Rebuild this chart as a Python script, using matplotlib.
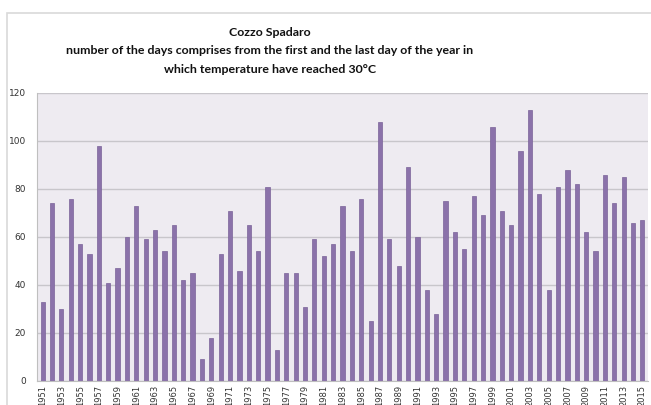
import matplotlib.pyplot as plt
import numpy as np
from matplotlib.patches import Rectangle

years = list(range(1951, 2016))
days = [33, 74, 30, 76, 57, 53, 98, 41, 47, 60,
        73, 59, 63, 54, 65, 42, 45, 9, 18, 53,
        71, 46, 65, 54, 81, 13, 45, 45, 31, 59,
        52, 57, 73, 54, 76, 25, 108, 59, 48, 89,
        60, 38, 28, 75, 62, 55, 77, 69, 106, 71,
        65, 96, 113, 78, 38, 81, 88, 82, 62, 54,
        86, 74, 85, 66, 67]
yticks = [0, 20, 40, 60, 80, 100, 120]

title = ("Cozzo Spadaro\n"
         "number of the days comprises from the first and the last day of the year in\n"
         "which temperature have reached 30\u00b0C")

fig = plt.figure(figsize=(6.51, 4.05), dpi=100)
fig.patches.append(Rectangle((7 / 651, -0.01), 1.0, 1 - 13 / 405 + 0.01,
                             transform=fig.transFigure, fill=False,
                             edgecolor="#d9d9d9", linewidth=1.2))

ax = fig.add_axes([37 / 651, 1 - 381 / 405, (648 - 37) / 651, (381 - 93) / 405])
ax.set_facecolor("#eeebf1")
x = np.arange(len(years))
ax.bar(x, days, width=0.45, color="#8b72aa", edgecolor="#7a6299", linewidth=0.5, zorder=3)
ax.set_xlim(-0.6, len(years) - 0.4)
ax.set_ylim(0, 120)
ax.set_yticks(yticks)
ax.yaxis.grid(True, color="#c8c6cb", linewidth=1.0, zorder=0)
ax.set_xticks(x[::2])
ax.set_xticklabels([str(y) for y in years[::2]], rotation=90, fontsize=6, color="#333333")
ax.tick_params(axis="y", labelsize=6.5, length=0, pad=8, colors="#333333")
ax.tick_params(axis="x", length=0, pad=3)
for s in ("top", "right"):
    ax.spines[s].set_visible(False)
ax.spines["left"].set_color("#bfbfbf")
ax.spines["bottom"].set_color("#bfbfbf")

fig.text(270 / 651, 1 - 51 / 405, title, ha="center", va="center", fontsize=8.9,
         fontweight="bold", family="Lato", linespacing=1.85, color="#111111")

fig.savefig("out.png", dpi=100)
